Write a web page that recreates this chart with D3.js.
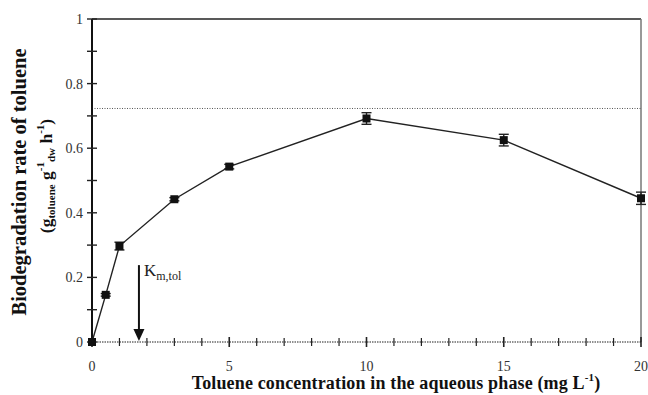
<!DOCTYPE html>
<html>
<head>
<meta charset="utf-8">
<script src="https://cdn.jsdelivr.net/npm/d3@7"></script>
<style>
  html, body { margin: 0; padding: 0; background: #fff; }
  svg { display: block; }
  svg text { font-family: "Liberation Serif", "Times New Roman", Times, "DejaVu Serif", serif; }
</style>
</head>
<body>
<svg id="chart" width="648" height="395"></svg>
<script>
// Toluene concentration (mg/L) and biodegradation rate (g toluene / g dw / h)
const concentration = [0, 0.5, 1, 3, 5, 10, 15, 20];
const rate = [0, 0.146, 0.297, 0.442, 0.543, 0.692, 0.625, 0.445];
const rateError = [0, 0.004, 0.012, 0.005, 0.007, 0.018, 0.018, 0.019];
const vmax = 0.723;
const kmTol = 1.71;
const xMajorTicks = [0, 5, 10, 15, 20];
const yMajorTicks = [0, 0.2, 0.4, 0.6, 0.8, 1];

const svg = d3.select("#chart");
const m = { left: 92, right: 7, top: 19, bottom: 53 };
const W = 648, H = 395;
const x = d3.scaleLinear().domain([0, 20]).range([m.left, W - m.right]);
const y = d3.scaleLinear().domain([0, 1]).range([H - m.bottom, m.top]);

// Frame: top and right borders
svg.append("line").attr("x1", x(0)).attr("x2", x(20)).attr("y1", y(1)).attr("y2", y(1))
  .attr("stroke", "#222").attr("stroke-width", 1.5);
svg.append("line").attr("x1", x(20)).attr("x2", x(20)).attr("y1", y(1)).attr("y2", y(0))
  .attr("stroke", "#777").attr("stroke-width", 1.5);

// Vmax reference line
svg.append("line").attr("x1", x(0)).attr("x2", x(20)).attr("y1", y(vmax)).attr("y2", y(vmax))
  .attr("stroke", "#555").attr("stroke-width", 1).attr("stroke-dasharray", "1,1.5");

// X axis: dotted baseline with crossing ticks
const xAxis = svg.append("g");
xAxis.append("line").attr("x1", x(0)).attr("x2", x(20)).attr("y1", y(0)).attr("y2", y(0))
  .attr("stroke", "#222").attr("stroke-width", 1.2).attr("stroke-dasharray", "1.5,1");
d3.range(0, 21).forEach(v => {
  const major = v % 5 === 0;
  xAxis.append("line").attr("x1", x(v)).attr("x2", x(v))
    .attr("y1", y(0) - (major ? 5 : 4)).attr("y2", y(0) + (major ? 5 : 4))
    .attr("stroke", "#222").attr("stroke-width", major ? 1.6 : 1.2);
});
xAxis.selectAll("text.xt").data(xMajorTicks).join("text")
  .attr("x", d => x(d)).attr("y", y(0) + 29)
  .attr("text-anchor", "middle").attr("font-size", 14).attr("fill", "#333")
  .text(d => d3.format("")(d));

// Y axis: solid line with crossing ticks
const yAxis = svg.append("g");
yAxis.append("line").attr("x1", x(0)).attr("x2", x(0)).attr("y1", y(1)).attr("y2", y(0))
  .attr("stroke", "#111").attr("stroke-width", 2);
d3.range(0, 11).forEach(i => {
  const v = i / 10;
  yAxis.append("line").attr("x1", x(0) - 5).attr("x2", x(0) + 5)
    .attr("y1", y(v)).attr("y2", y(v))
    .attr("stroke", "#222").attr("stroke-width", 1.4);
});
yAxis.selectAll("text.yt").data(yMajorTicks).join("text")
  .attr("x", x(0) - 9).attr("y", d => y(d) + 5)
  .attr("text-anchor", "end").attr("font-size", 14).attr("fill", "#333")
  .text(d => d3.format("")(d));

// Data line
const pts = concentration.map((c, i) => ({ c, r: rate[i], e: rateError[i] }));
svg.append("path").datum(pts)
  .attr("d", d3.line().x(d => x(d.c)).y(d => y(d.r)))
  .attr("fill", "none").attr("stroke", "#222").attr("stroke-width", 1.4);

// Error bars
const eb = svg.append("g").attr("stroke", "#222").attr("stroke-width", 1.4);
pts.filter(d => d.e > 0).forEach(d => {
  eb.append("line").attr("x1", x(d.c)).attr("x2", x(d.c)).attr("y1", y(d.r + d.e)).attr("y2", y(d.r - d.e));
  eb.append("line").attr("x1", x(d.c) - 5).attr("x2", x(d.c) + 5).attr("y1", y(d.r + d.e)).attr("y2", y(d.r + d.e));
  eb.append("line").attr("x1", x(d.c) - 5).attr("x2", x(d.c) + 5).attr("y1", y(d.r - d.e)).attr("y2", y(d.r - d.e));
});

// Square markers
svg.selectAll("rect.pt").data(pts).join("rect")
  .attr("x", d => x(d.c) - 4).attr("y", d => y(d.r) - 4)
  .attr("width", 8).attr("height", 8).attr("fill", "#111");

// Km arrow and label
const ay1 = y(0.238), ay2 = y(0) - 1;
svg.append("line").attr("x1", x(kmTol)).attr("x2", x(kmTol)).attr("y1", ay1).attr("y2", ay2 - 10)
  .attr("stroke", "#111").attr("stroke-width", 2);
svg.append("path")
  .attr("d", `M${x(kmTol) - 5.5},${ay2 - 12} L${x(kmTol) + 5.5},${ay2 - 12} L${x(kmTol)},${ay2} Z`)
  .attr("fill", "#111");
const km = svg.append("text").attr("x", x(kmTol) + 5).attr("y", y(0.2) - 1)
  .attr("font-size", 17).attr("fill", "#222");
km.append("tspan").text("K");
km.append("tspan").attr("font-size", 12).attr("dy", 4).text("m,tol");

// X axis title
const xt = svg.append("text").attr("x", 396).attr("y", 389)
  .attr("text-anchor", "middle").attr("font-size", 18).attr("letter-spacing", 0.15)
  .attr("font-weight", "bold").attr("fill", "#111");
xt.append("tspan").text("Toluene concentration in the aqueous phase (mg L");
xt.append("tspan").attr("font-size", 11).attr("dy", -8).text("-1");
xt.append("tspan").attr("dy", 8).text(")");

// Y axis title (two lines)
svg.append("text").attr("transform", "translate(26,182) rotate(-90)")
  .attr("text-anchor", "middle").attr("font-size", 20.5).attr("font-weight", "bold").attr("fill", "#111")
  .text("Biodegradation rate of toluene");
const yt2 = svg.append("text").attr("transform", "translate(52,176) rotate(-90)")
  .attr("text-anchor", "middle").attr("font-size", 17.5).attr("font-weight", "bold").attr("fill", "#111");
yt2.append("tspan").text("(g");
yt2.append("tspan").attr("font-size", 11).attr("dy", 3).text("toluene");
yt2.append("tspan").attr("dy", -3).text(" g");
yt2.append("tspan").attr("font-size", 11).attr("dy", -8).text("-1");
yt2.append("tspan").attr("font-size", 11).attr("dy", 11).text("dw");
yt2.append("tspan").attr("dy", -3).text(" h");
yt2.append("tspan").attr("font-size", 11).attr("dy", -8).text("-1");
yt2.append("tspan").attr("dy", 8).text(")");
</script>
</body>
</html>
